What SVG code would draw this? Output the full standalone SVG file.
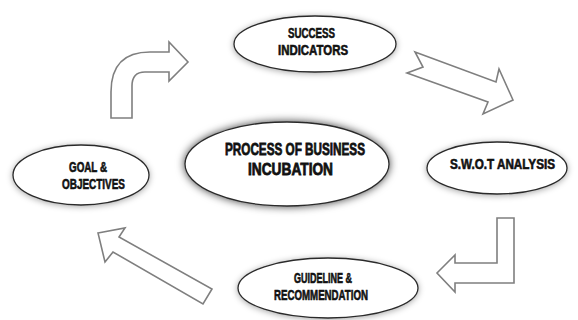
<svg xmlns="http://www.w3.org/2000/svg" width="578" height="320" viewBox="0 0 578 320">
<defs>
<filter id="sh" x="-20%" y="-40%" width="140%" height="180%">
<feDropShadow dx="0" dy="1" stdDeviation="3" flood-color="#000" flood-opacity="0.35"/>
</filter>
<filter id="shc" x="-20%" y="-40%" width="140%" height="180%">
<feDropShadow dx="0" dy="0" stdDeviation="4" flood-color="#000" flood-opacity="0.75"/>
</filter>
<style>
.e{fill:#fff;stroke:#2a2a2a;stroke-width:1.3}
.a{fill:#fff;stroke:#7f7f7f;stroke-width:1.6;stroke-linejoin:miter}
.t{font-family:"Liberation Sans",Arial,sans-serif;font-weight:bold;font-size:14px;fill:#111;stroke:#111;stroke-width:0.6}
.tc{font-size:17px;stroke-width:0.8}
</style>
</defs>
<rect width="578" height="320" fill="#fff"/>
<g id="connectors">
<path class="a" d="M111,118 L111,92 Q111,52 150,52 L169,52 L169,42 L188,62 L169,81 L169,72 L145,72 Q132,72 132,86 L132,118 Z"/>
<polygon class="a" points="415,52 496,82 499,69 513,100 483,114 488,102 407,73 423,67"/>
<polygon class="a" points="497,218 514,218 514,283 455,283 455,292 437,273 455,255 455,263 497,263"/>
<polygon class="a" points="98,233 125,228 119,237 212,289 203,304 113,252 105,262"/>
</g>
<g id="success">
<ellipse class="e" cx="315" cy="44" rx="81" ry="28" filter="url(#sh)"/>
<text class="t" x="288" y="38" textLength="47" lengthAdjust="spacingAndGlyphs">SUCCESS</text>
<text class="t" x="278" y="55" textLength="70" lengthAdjust="spacingAndGlyphs">INDICATORS</text>
</g>
<g id="process">
<ellipse class="e" cx="287" cy="164" rx="102" ry="42" filter="url(#shc)"/>
<text class="t tc" x="225" y="155" textLength="140" lengthAdjust="spacingAndGlyphs">PROCESS OF BUSINESS</text>
<text class="t tc" x="248" y="175" textLength="85" lengthAdjust="spacingAndGlyphs">INCUBATION</text>
</g>
<g id="goal">
<ellipse class="e" cx="81" cy="175" rx="68" ry="30" filter="url(#sh)"/>
<text class="t" x="69" y="172" textLength="38" lengthAdjust="spacingAndGlyphs">GOAL &amp;</text>
<text class="t" x="62" y="189" textLength="63" lengthAdjust="spacingAndGlyphs">OBJECTIVES</text>
</g>
<g id="swot">
<ellipse class="e" cx="497" cy="168" rx="70" ry="26" filter="url(#sh)"/>
<text class="t" x="450" y="169" textLength="105" lengthAdjust="spacingAndGlyphs">S.W.O.T ANALYSIS</text>
</g>
<g id="guideline">
<ellipse class="e" cx="328" cy="288" rx="90" ry="30" filter="url(#sh)"/>
<text class="t" x="294" y="283" textLength="58" lengthAdjust="spacingAndGlyphs">GUIDELINE &amp;</text>
<text class="t" x="274" y="300" textLength="94" lengthAdjust="spacingAndGlyphs">RECOMMENDATION</text>
</g>
</svg>
